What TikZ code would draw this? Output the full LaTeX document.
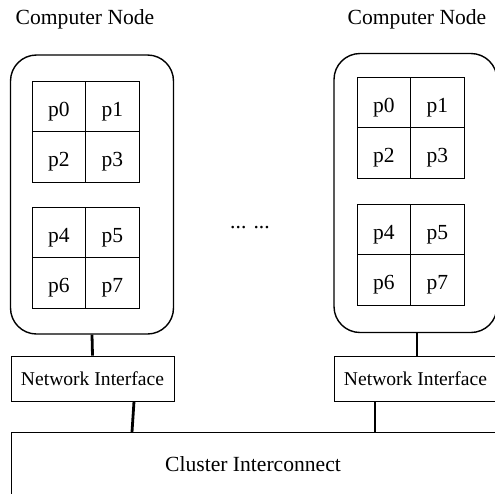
\documentclass[tikz,border=0pt]{standalone}
\usepackage{fontspec}
\setmainfont{Liberation Serif}
\usetikzlibrary{calc}
\begin{document}
\begin{tikzpicture}[x=1pt,y=-1pt,
  cell/.style={draw, line width=0.9pt, minimum width=53.5pt, minimum height=50.5pt, inner sep=0pt, text height=20pt, text depth=0pt, font=\fontsize{21.5}{24}\selectfont},
  nodebox/.style={draw, line width=1.4pt, rounded corners=26pt, minimum width=163pt, minimum height=279pt, inner sep=0pt},
  nibox/.style={draw, line width=0.9pt, minimum width=163pt, minimum height=45pt, inner sep=0pt, font=\fontsize{19.6}{22}\selectfont},
  link/.style={line width=2.8pt},
  lbl/.style={font=\fontsize{21.6}{24}\selectfont, inner sep=0pt}]
\useasboundingbox (0,0) rectangle (495,493);
\clip (0,0) rectangle (495,493);

% labels
\node[lbl] (t1) at (85,19.5) {Computer Node};
\node[lbl] (t2) at (417,19.5) {Computer Node};

% computer nodes
\node[nodebox] (cn1) at (92,194.5) {};
\node[nodebox] (cn2) at (415.5,193) {};

% left grids
\node[cell] (a0) at (58.75,106.25) {p0};
\node[cell] (a1) at (112.25,106.25) {p1};
\node[cell] (a2) at (58.75,156.75) {p2};
\node[cell] (a3) at (112.25,156.75) {p3};
\node[cell] (a4) at (58.75,232.25) {p4};
\node[cell] (a5) at (112.25,232.25) {p5};
\node[cell] (a6) at (58.75,282.75) {p6};
\node[cell] (a7) at (112.25,282.75) {p7};

% right grids
\node[cell] (b0) at (383.75,102.25) {p0};
\node[cell] (b1) at (437.25,102.25) {p1};
\node[cell] (b2) at (383.75,152.75) {p2};
\node[cell] (b3) at (437.25,152.75) {p3};
\node[cell] (b4) at (383.75,229.25) {p4};
\node[cell] (b5) at (437.25,229.25) {p5};
\node[cell] (b6) at (383.75,279.75) {p6};
\node[cell] (b7) at (437.25,279.75) {p7};

% dots
\node[lbl, anchor=base] (dots) at (250,228.5) {... ...};

% network interfaces
\node[nibox] (ni1) at (92.5,378.5) {Network Interface};
\node[nibox] (ni2) at (415.5,378.5) {Network Interface};

% cluster interconnect
\node[draw, line width=0.9pt, minimum width=520pt, minimum height=90pt, inner sep=0pt, anchor=north west] (cl) at (11,432) {};
\node[lbl] (cltxt) at (253,464.5) {Cluster Interconnect};

% connectors
\draw[link] (cn1.south) -- (ni1.north);
\coordinate (c2top) at (417,333);
\coordinate (c2bot) at (417,356);
\draw[link] (cn2.south -| c2top) -- (ni2.north -| c2bot);
\coordinate (l1a) at (134,401);
\coordinate (l1b) at (132,432);
\draw[link] (ni1.south -| l1a) -- (cl.north -| l1b);
\coordinate (l2) at (375,401);
\draw[link] (ni2.south -| l2) -- (cl.north -| l2);
\end{tikzpicture}
\end{document}
